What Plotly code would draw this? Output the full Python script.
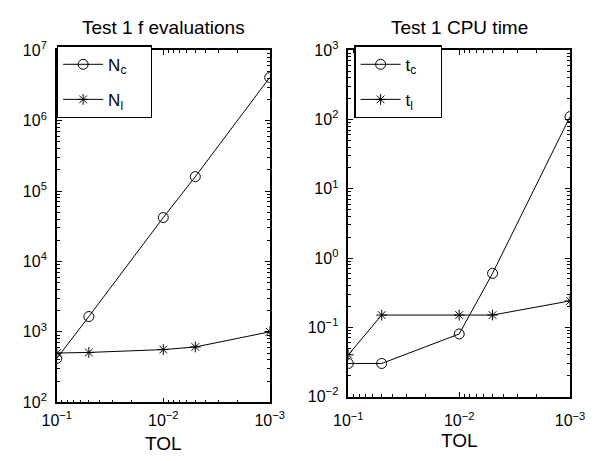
import plotly.graph_objects as go

# ---- data ----
tol = [0.1, 0.05, 0.01, 0.005, 0.001]
N_c = [420, 1650, 42000, 160000, 4100000]
N_l = [500, 510, 560, 610, 1000]
t_c = [0.03, 0.03, 0.08, 0.6, 110]
t_l = [0.04, 0.15, 0.15, 0.15, 0.24]

x_tickvals = [1e-1, 1e-2, 1e-3]
x_ticktext = ["10<sup>−1</sup>", "10<sup>−2</sup>", "10<sup>−3</sup>"]
y1_tickvals = [1e2, 1e3, 1e4, 1e5, 1e6, 1e7]
y1_ticktext = ["10<sup>2</sup>", "10<sup>3</sup>", "10<sup>4</sup>", "10<sup>5</sup>", "10<sup>6</sup>", "10<sup>7</sup>"]
y2_tickvals = [1e-2, 1e-1, 1e0, 1e1, 1e2, 1e3]
y2_ticktext = ["10<sup>−2</sup>", "10<sup>−1</sup>", "10<sup>0</sup>", "10<sup>1</sup>", "10<sup>2</sup>", "10<sup>3</sup>"]

titles = ["Test 1 f evaluations", "Test 1 CPU time"]


def minor_vals(lo, hi):
    vals = []
    for e in range(lo, hi):
        for m in range(2, 10):
            vals.append(m * 10 ** e)
    return vals


W, H = 605, 461
fig = go.Figure()

pad = "\u00a0" * 4
line = dict(color="black", width=1)
circ = dict(symbol="circle-open", size=10, color="black", line=dict(width=1, color="black"))
star = dict(symbol="asterisk-open", size=9, color="black", line=dict(width=1, color="black"))
fig.add_trace(go.Scatter(x=tol, y=N_c, mode="lines+markers", name="N<sub>c</sub>" + pad, line=line, marker=circ,
                         xaxis="x", yaxis="y", legend="legend", legendgroup="a"))
fig.add_trace(go.Scatter(x=tol, y=N_l, mode="lines+markers", name="N<sub>l</sub>" + pad, line=line, marker=star,
                         xaxis="x", yaxis="y", legend="legend", legendgroup="b"))
fig.add_trace(go.Scatter(x=tol, y=t_c, mode="lines+markers", name="t<sub>c</sub>" + pad, line=line, marker=circ,
                         xaxis="x2", yaxis="y2", legend="legend2", legendgroup="c"))
fig.add_trace(go.Scatter(x=tol, y=t_l, mode="lines+markers", name="t<sub>l</sub>" + pad, line=line, marker=star,
                         xaxis="x2", yaxis="y2", legend="legend2", legendgroup="d"))

axcommon = dict(type="log", showgrid=False, zeroline=False, showline=True, linecolor="black", linewidth=1.5,
                mirror="ticks", ticks="inside", ticklen=5, tickcolor="black", tickwidth=1,
                tickfont=dict(size=16, color="black"))

L = dict(x0=44, x1=268, y0=41, y1=409)
R = dict(x0=350.7, x1=584, y0=41, y1=403)

legcommon = dict(xanchor="left", yanchor="top", bordercolor="black",
                 borderwidth=1.3, bgcolor="white", font=dict(size=17, color="black"), tracegroupgap=10,
                 itemwidth=40)

fig.update_layout(
    width=W, height=H, margin=dict(l=0, r=0, t=0, b=0),
    paper_bgcolor="white", plot_bgcolor="white",
    font=dict(family="Liberation Sans, Arial, sans-serif", color="black"),
    xaxis=dict(axcommon, domain=[L["x0"] / W, L["x1"] / W], range=[-1, -3], anchor="y",
               tickmode="array", tickvals=x_tickvals, ticktext=x_ticktext, ticklabelstandoff=3,
               minor=dict(tickmode="array", tickvals=minor_vals(-3, -1), ticks="inside", ticklen=3, tickcolor="black")),
    yaxis=dict(axcommon, domain=[1 - L["y1"] / H, 1 - L["y0"] / H], range=[2, 7], anchor="x",
               tickmode="array", tickvals=y1_tickvals, ticktext=y1_ticktext, ticklabelstandoff=5,
               minor=dict(tickmode="array", tickvals=minor_vals(2, 7), ticks="inside", ticklen=3, tickcolor="black")),
    xaxis2=dict(axcommon, domain=[R["x0"] / W, R["x1"] / W], range=[-1, -3], anchor="y2",
                tickmode="array", tickvals=x_tickvals, ticktext=x_ticktext, ticklabelstandoff=9,
                minor=dict(tickmode="array", tickvals=minor_vals(-3, -1), ticks="inside", ticklen=3, tickcolor="black")),
    yaxis2=dict(axcommon, domain=[1 - R["y1"] / H, 1 - R["y0"] / H], range=[-2, 3], anchor="x2",
                tickmode="array", tickvals=y2_tickvals, ticktext=y2_ticktext, ticklabelstandoff=5,
                minor=dict(tickmode="array", tickvals=minor_vals(-2, 3), ticks="inside", ticklen=3, tickcolor="black")),
    legend=dict(legcommon, x=44 / W, y=1 - 36 / H),
    legend2=dict(legcommon, x=357 / W, y=1 - 36 / H),
    showlegend=True,
)

annots = [
    dict(text=titles[0], x=(L["x0"] + L["x1"]) / 2 / W, y=1 - 17 / H, font=dict(size=19, color="black")),
    dict(text=titles[1], x=(R["x0"] + R["x1"]) / 2 / W, y=1 - 17 / H, font=dict(size=19, color="black")),
    dict(text="TOL", x=(L["x0"] + L["x1"]) / 2 / W, y=1 - 452 / H, font=dict(size=19, color="black")),
    dict(text="TOL", x=(R["x0"] + R["x1"]) / 2 / W, y=1 - 449 / H, font=dict(size=19, color="black")),
]
for a in annots:
    fig.add_annotation(xref="paper", yref="paper", showarrow=False, xanchor="center", yanchor="middle", **a)

fig.write_html("out.html")
